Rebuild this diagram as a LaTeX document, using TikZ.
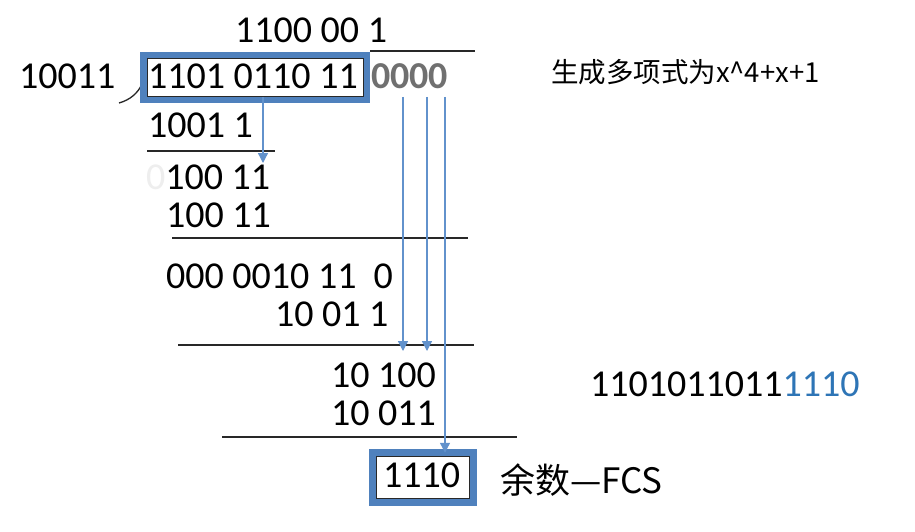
\documentclass[tikz,border=0pt]{standalone}
\usepackage{fontspec}
\setmainfont{Carlito}
\newfontfamily\cjk{Noto Sans CJK SC}
\usetikzlibrary{arrows.meta}
\definecolor{boxblue}{RGB}{79,129,189}
\definecolor{arrblue}{RGB}{98,146,204}
\definecolor{digblue}{RGB}{46,117,182}
\definecolor{graydig}{RGB}{112,112,112}
\definecolor{faint}{RGB}{238,238,238}
\definecolor{rulec}{RGB}{40,40,40}
\tikzset{
  num/.style={font=\fontsize{38}{40}\selectfont, anchor=base west, inner sep=0pt, outer sep=0pt},
  cjktext/.style={anchor=base west, inner sep=0pt, outer sep=0pt},
  rule/.style={draw=rulec, line width=1.2pt},
  bluebox/.style={draw=boxblue, line width=7pt, fill=white, inner sep=0pt, outer sep=0pt},
  innerbox/.style={draw=rulec, line width=0.7pt, inner sep=0pt, outer sep=0pt},
  flow/.style={draw=arrblue, line width=1.3pt, -{Triangle[width=10pt,length=10pt]}}
}
\begin{document}
\begin{tikzpicture}[x=1pt,y=-1pt]
\useasboundingbox[fill=white] (0,0) rectangle (915,532);
% rules
\draw[rule] (370,51) -- (475,51);
\draw[rule] (147,151) -- (275,151);
\draw[rule] (172,238) -- (468,238);
\draw[rule] (178,345) -- (474,345);
\draw[rule] (222,437) -- (517,437);
% divisor bracket
\draw[rulec, line width=1.3pt] (119,103) .. controls (130,100) and (138,93) .. (142,84);
% boxes
\node[bluebox, minimum width=223pt, minimum height=44.8pt] (box1) at (255,77.6) {};
\node[innerbox, minimum width=216pt, minimum height=37.8pt] (box1in) at (255,77.6) {};
\node[bluebox, minimum width=100.4pt, minimum height=49.7pt] (box2) at (423,477.6) {};
\node[innerbox, minimum width=93pt, minimum height=42.2pt] (box2in) at (423,477.6) {};
% texts
\node[num] (quot) at (235,43) {1100 00 1};
\node[num] (divisor) at (19,88.5) {10011};
\node[num] (data) at (148,88.5) {1101 0110 11};
\node[num, text=graydig, font=\fontsize{38}{40}\selectfont\bfseries] (pad) at (371,88.5) {0000};
\node[num] (r1) at (148,137) {1001 1};
\node[num] (r2) at (146,189) {\textcolor{faint}{0}100 11};
\node[num] (r3) at (166,227) {100 11};
\node[num] (r4) at (166,288) {000 0010 11\hspace{0.45em}0};
\node[num] (r5) at (275,326) {10 01 1};
\node[num] (r6) at (331,387) {10 100};
\node[num] (r7) at (331,425) {10 011};
\node[num] (fcs) at (383,487) {1110};
\node[cjktext, font=\cjk\fontsize{35}{37}\selectfont] (fcslabel) at (500,493) {余数—FCS};
\node[cjktext, font=\cjk\fontsize{27.5}{30}\selectfont] (poly) at (551,83) {生成多项式为x\textasciicircum 4+x+1};
\node[num] (result) at (590,396) {1101011011\textcolor{digblue}{1110}};
% arrows
\coordinate (s1) at (263,97);
\coordinate (e1) at (263,163);
\coordinate (s2) at (403,97);
\coordinate (e2) at (403,351);
\coordinate (s3) at (427,97);
\coordinate (e3) at (427,351);
\coordinate (s4) at (445,97);
\draw[flow] (s1) -- (e1);
\draw[flow] (s2) -- (e2);
\draw[flow] (s3) -- (e3);
\draw[flow] (s4) -- (s4 |- box2.north);
\end{tikzpicture}
\end{document}
